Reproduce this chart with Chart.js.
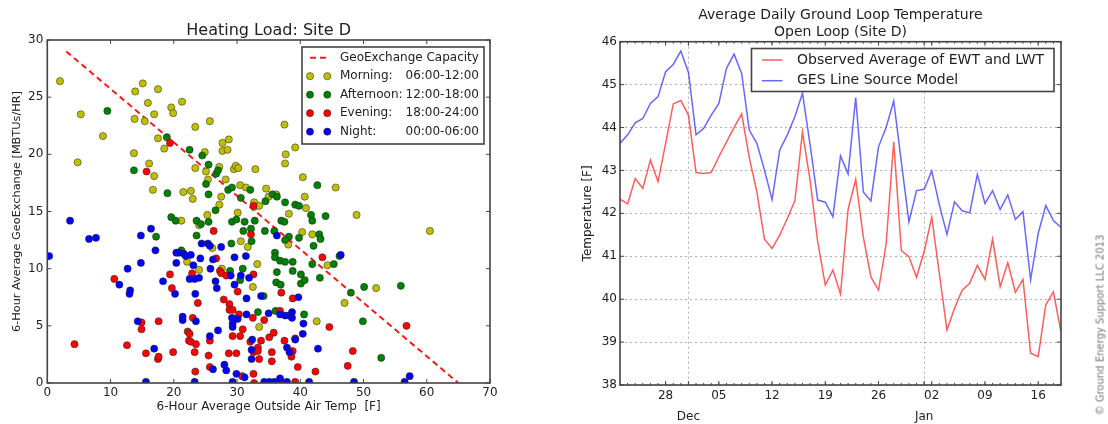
<!DOCTYPE html>
<html>
<head>
<meta charset="utf-8">
<script src="https://cdn.jsdelivr.net/npm/chart.js@4.4.1/dist/chart.umd.min.js"></script>
<style>
  html, body { margin: 0; padding: 0; background: #fff; }
  body { width: 1108px; height: 424px; position: relative; overflow: hidden; font-family: "DejaVu Sans", sans-serif; }
  .box { position: absolute; top: 0; width: 554px; height: 424px; }
  #leftBox { left: 0; }
  #rightBox { left: 554px; }
  .credit { position: absolute; left: 1100px; top: 325px; transform: translate(-50%, -50%) rotate(-90deg);
            font-size: 10px; color: #777; white-space: nowrap; }
</style>
</head>
<body>
<div class="box" id="leftBox"><canvas id="heatChart"></canvas></div>
<div class="box" id="rightBox"><canvas id="loopChart"></canvas></div>
<div class="credit">© Ground Energy Support LLC 2013</div>

<script>
//========================= Data ==================================//

// left chart: [outside air temp F, geoexchange MBTU/hr]
const capacityLine = [[3, 29], [65, 0]];

const seriesNames = ['Morning:', 'Afternoon:', 'Evening:', 'Night:'];
const seriesHours = ['06:00-12:00', '12:00-18:00', '18:00-24:00', '00:00-06:00'];

const morning = [[2.0,26.4],[5.3,23.5],[4.8,19.3],[8.8,21.6],[13.9,25.5],[15.1,26.2],[17.5,25.7],[15.9,24.5],
  [13.8,23.1],[15.4,22.9],[16.9,23.5],[21.3,24.6],[19.6,24.1],[19.9,23.6],[17.5,21.4],[13.7,20.1],[16.1,19.2],
  [16.9,18.1],[16.7,16.9],[18.5,20.5],[23.4,22.4],[25.7,22.9],[21.5,16.7],[22.7,16.8],[23.0,16.1],[23.4,18.8],
  [24.9,20.2],[25.1,18.5],[25.4,17.8],[25.3,14.7],[21.2,14.2],[27.7,21.0],[28.7,21.3],[27.7,20.3],[28.5,20.4],
  [27.2,18.9],[29.5,18.7],[29.8,19.0],[30.2,18.8],[28.2,17.8],[27.2,15.6],[27.5,16.3],[30.5,17.3],[31.4,17.1],
  [32.9,18.7],[30.1,14.9],[32.7,15.8],[32.7,15.4],[33.5,15.5],[34.6,17.0],[35.0,16.3],[36.2,16.5],[37.5,22.6],
  [37.7,20.0],[37.6,19.2],[39.2,20.6],[40.4,18.0],[40.7,16.3],[38.2,14.8],[40.9,15.3],[45.6,17.1],[40.3,13.2],
  [41.9,13.0],[38.1,12.1],[30.6,12.4],[31.7,11.9],[33.2,10.4],[24.0,13.8],[26.1,11.8],[22.1,10.6],[24.0,9.9],
  [27.6,10.0],[32.5,8.4],[33.5,4.9],[42.6,5.4],[44.3,10.3],[47.0,7.0],[48.9,14.7],[52.0,8.3],[60.5,13.3]];

const afternoon = [[9.5,23.8],[13.7,18.6],[18.9,21.5],[22.5,20.4],[24.5,19.9],[25.5,19.1],[25.1,17.4],[25.5,16.5],
  [26.7,18.3],[27.0,18.6],[19.0,16.6],[19.6,14.5],[20.3,14.2],[17.2,12.8],[23.6,14.2],[24.3,13.9],[23.6,12.9],
  [26.6,15.1],[25.5,14.1],[28.6,16.9],[29.2,17.1],[30.6,16.2],[32.1,16.9],[29.2,14.1],[29.1,12.2],[31.0,13.3],
  [31.2,14.1],[32.2,13.5],[32.8,14.2],[32.3,12.4],[34.4,13.3],[34.5,15.9],[35.6,16.5],[36.3,16.3],[37.6,15.8],
  [37.0,14.2],[37.5,14.1],[39.2,15.6],[39.8,15.5],[41.7,14.7],[41.9,14.2],[44.0,14.6],[42.7,17.3],[43.0,13.0],
  [43.2,12.6],[42.1,12.0],[39.8,12.7],[38.2,12.8],[37.6,12.5],[35.9,13.3],[36.0,11.4],[36.0,11.0],[36.8,10.7],
  [37.6,10.6],[38.8,10.6],[36.3,9.7],[38.8,9.8],[40.1,9.5],[40.1,8.7],[40.7,9.0],[36.2,8.8],[36.9,8.6],[43.1,9.2],
  [41.9,10.4],[45.3,10.4],[46.2,11.1],[48.0,7.9],[50.1,8.4],[55.9,8.5],[49.9,5.4],[52.8,2.2],[40.6,6.0],[36.1,6.3],
  [33.3,6.2],[34.2,7.6],[30.9,10.0],[30.5,9.0],[29.9,14.3],[21.2,11.6],[28.9,9.8]];

const evening = [[19.4,21.0],[15.7,18.5],[32.6,15.5],[26.3,13.3],[32.2,13.0],[10.6,9.1],[4.3,3.4],[12.6,3.3],
  [14.9,5.3],[14.9,4.7],[15.6,2.6],[17.6,5.4],[17.5,2.1],[17.6,2.3],[19.4,9.5],[19.7,8.3],[19.9,2.7],[22.2,4.5],
  [22.5,4.3],[22.4,3.7],[22.7,3.6],[23.5,3.4],[23.3,2.7],[23.0,5.7],[23.8,7.0],[22.9,9.6],[23.4,1.0],[25.7,3.7],
  [25.5,2.4],[25.7,1.4],[26.7,10.9],[27.3,9.8],[27.5,9.6],[28.3,9.4],[27.9,7.3],[28.8,6.9],[28.8,6.4],[29.3,6.4],
  [28.7,2.6],[29.3,4.1],[29.9,2.6],[30.1,8.0],[30.3,6.0],[30.5,4.1],[30.9,4.7],[30.8,0.6],[32.5,5.7],[32.6,9.5],
  [32.1,3.6],[33.3,3.1],[32.6,2.7],[33.3,2.8],[33.5,2.1],[32.6,0.8],[32.7,0.0],[33.8,3.7],[34.3,5.5],[35.1,4.0],
  [35.8,4.4],[35.5,2.7],[35.5,1.9],[37.0,7.9],[36.8,6.3],[37.5,3.7],[38.8,2.8],[38.6,2.3],[38.8,7.4],[39.2,3.9],
  [39.6,1.4],[42.4,1.0],[43.5,11.0],[44.6,4.9],[47.5,1.5],[48.3,2.8],[56.8,5.0],[37.0,0.1],[39.2,0.1]];

const night = [[0.3,11.1],[3.6,14.2],[6.6,12.6],[7.7,12.7],[12.7,10.0],[11.4,8.6],[13.1,8.1],[13.0,7.8],[14.8,12.9],
  [16.4,13.5],[17.1,11.6],[14.8,10.5],[14.3,5.4],[16.9,3.0],[15.6,0.1],[18.3,8.9],[20.4,11.4],[20.8,11.4],
  [21.6,11.3],[21.9,11.1],[20.4,10.5],[20.2,7.8],[21.4,5.8],[21.4,5.5],[22.7,11.2],[23.1,10.3],[22.5,9.1],
  [23.3,9.1],[24.0,9.2],[23.4,7.8],[23.5,5.4],[24.2,10.9],[24.4,12.2],[25.4,12.2],[25.7,12.0],[25.8,10.0],
  [26.2,10.8],[26.6,8.9],[26.8,8.3],[25.7,4.1],[27.0,4.6],[26.2,1.2],[28.0,1.6],[28.3,1.1],[27.5,11.9],[29.0,9.4],
  [29.6,8.6],[29.6,11.0],[29.2,5.7],[29.3,5.2],[29.3,4.9],[30.1,5.6],[30.6,9.4],[31.4,11.1],[31.5,7.4],[31.5,6.0],
  [31.9,9.2],[29.9,0.8],[29.3,0.1],[31.2,0.5],[32.4,3.8],[32.3,2.9],[32.3,2.1],[33.8,7.6],[35.0,6.1],[36.3,12.9],
  [36.8,6.0],[37.6,5.9],[38.2,5.9],[38.7,6.2],[38.7,5.7],[39.7,7.5],[37.9,3.1],[38.3,2.7],[39.2,3.8],[36.8,0.4],
  [40.4,4.3],[40.5,5.2],[42.8,3.0],[46.4,11.2],[48.5,0.1],[57.3,0.6],[56.5,0.1],[34.3,0.1],[35.1,0.1],[35.9,0.1],
  [37.9,0.1],[41.4,0.1],[23.3,0.1]];

// right chart: one value per day, day 0 = Nov 22, day 58 = Jan 19
const observed = [42.33,42.22,42.81,42.58,43.24,42.74,43.63,44.55,44.63,44.29,42.95,42.93,42.95,43.32,43.66,
  44.0,44.32,43.3,42.5,41.40,41.18,41.49,41.88,42.29,43.90,42.77,41.34,40.33,40.68,40.12,42.09,42.79,41.45,
  40.52,40.21,41.28,43.67,41.13,40.99,40.51,41.11,41.91,40.6,39.28,39.79,40.21,40.37,40.79,40.46,41.40,40.29,
  40.85,40.16,40.46,38.74,38.66,39.87,40.17,39.23];

const model = [43.63,43.83,44.11,44.21,44.56,44.72,45.30,45.47,45.78,45.29,43.83,43.98,44.29,44.56,45.38,45.71,
  45.26,43.94,43.63,43.01,42.32,43.47,43.83,44.25,44.80,43.6,42.31,42.26,41.92,43.34,42.92,44.70,42.50,42.29,
  43.55,44.0,44.62,43.2,41.80,42.53,42.56,42.99,42.2,41.51,42.27,42.06,42.01,42.91,42.23,42.53,42.09,42.43,
  41.86,42.04,40.45,41.53,42.18,41.83,41.67];

const weekTickDays = [6, 13, 20, 27, 34, 41, 48, 55];
const weekTickLabels = ['28', '05', '12', '19', '26', '02', '09', '16'];
const monthTickDays = [9, 40];
const monthTickLabels = ['Dec', 'Jan'];

//========================= Plugins ==================================//

Chart.defaults.font.family = '"DejaVu Sans", sans-serif';
Chart.defaults.color = '#222';

// matplotlib style frame with inward ticks
const mplFrame = {
  id: 'mplFrame',
  afterDatasetsDraw(chart, args, opts) {
    const { ctx, chartArea: a, scales } = chart;
    const x = scales.x, y = scales.y;
    ctx.save();
    ctx.strokeStyle = opts.color;
    ctx.lineWidth = 1;
    ctx.beginPath();
    const vTick = (px, len) => {
      ctx.moveTo(px, a.bottom); ctx.lineTo(px, a.bottom - len);
      ctx.moveTo(px, a.top); ctx.lineTo(px, a.top + len);
    };
    const hTick = (py, len) => {
      ctx.moveTo(a.left, py); ctx.lineTo(a.left + len, py);
      ctx.moveTo(a.right, py); ctx.lineTo(a.right - len, py);
    };
    if (opts.minorStep) {
      for (let v = x.min; v <= x.max; v += opts.minorStep) vTick(x.getPixelForValue(v), 2);
    }
    x.ticks.forEach(t => vTick(x.getPixelForValue(t.value), 4));
    y.ticks.forEach(t => hTick(y.getPixelForValue(t.value), 4));
    ctx.stroke();
    ctx.lineWidth = opts.width;
    ctx.strokeRect(a.left, a.top, a.width, a.height);
    ctx.restore();
  }
};

// boxed legend, two markers per scatter entry
const boxLegend = {
  id: 'boxLegend',
  afterDraw(chart, args, opts) {
    if (!opts.left) return;
    const ctx = chart.ctx;
    ctx.save();
    ctx.fillStyle = '#fff';
    ctx.fillRect(opts.left, opts.top, opts.width, opts.height);
    ctx.strokeStyle = opts.borderColor;
    ctx.lineWidth = opts.borderWidth;
    ctx.strokeRect(opts.left, opts.top, opts.width, opts.height);
    ctx.font = opts.fontSize + 'px "DejaVu Sans"';
    ctx.textBaseline = 'middle';
    opts.order.forEach((dsIndex, i) => {
      const ds = chart.data.datasets[dsIndex];
      const cy = opts.top + opts.firstRow + i * opts.rowGap;
      if (ds.type === 'line' || chart.config.type === 'line') {
        ctx.strokeStyle = ds.borderColor;
        ctx.lineWidth = ds.borderWidth;
        ctx.setLineDash(ds.borderDash || []);
        ctx.beginPath();
        ctx.moveTo(opts.symbolX[0], cy);
        ctx.lineTo(opts.symbolX[1], cy);
        ctx.stroke();
        ctx.setLineDash([]);
      } else {
        opts.symbolX.forEach(sx => {
          ctx.beginPath();
          ctx.arc(sx, cy, ds.pointRadius, 0, Math.PI * 2);
          ctx.fillStyle = ds.backgroundColor;
          ctx.fill();
          ctx.lineWidth = ds.borderWidth;
          ctx.strokeStyle = ds.borderColor;
          ctx.stroke();
        });
      }
      ctx.fillStyle = '#222';
      ctx.textAlign = 'left';
      ctx.fillText(ds.name || ds.label, opts.textX, cy);
      if (ds.hours) {
        ctx.textAlign = 'right';
        ctx.fillText(ds.hours, opts.hoursX, cy);
      }
    });
    ctx.restore();
  }
};

Chart.register(mplFrame, boxLegend);

/***************************************************************
* Heating Load scatter
****************************************************************/
const toXY = arr => arr.map(p => ({ x: p[0], y: p[1] }));
const dotColors = ['#bfbf00', '#008000', '#ff0000', '#0000ff'];
const dotSets = [morning, afternoon, evening, night].map((pts, i) => ({
  label: seriesNames[i] + ' ' + seriesHours[i],
  name: seriesNames[i],
  hours: seriesHours[i],
  data: toXY(pts),
  backgroundColor: dotColors[i],
  borderColor: 'rgba(40,40,40,0.75)',
  borderWidth: 0.7,
  pointRadius: 3.6,
  pointHoverRadius: 3.6,
  order: 3 - i
}));

new Chart(document.getElementById('heatChart'), {
  type: 'scatter',
  data: {
    datasets: [{
      label: 'GeoExchange Capacity',
      type: 'line',
      data: toXY(capacityLine),
      borderColor: '#ff1a1a',
      borderWidth: 2,
      borderDash: [6, 4],
      pointRadius: 0,
      fill: false,
      order: 4
    }].concat(dotSets)
  },
  options: {
    responsive: true,
    maintainAspectRatio: false,
    animation: false,
    layout: { padding: { left: 6, right: 64, top: 0, bottom: 0 } },
    plugins: {
      legend: { display: false },
      tooltip: { enabled: false },
      title: {
        display: true,
        fullSize: false,
        text: 'Heating Load: Site D',
        font: { size: 16, weight: 'normal', lineHeight: 1.2 },
        color: '#222',
        padding: { top: 20.8, bottom: 0 }
      },
      mplFrame: { color: '#444', width: 1.6 },
      boxLegend: {
        left: 302, top: 47, width: 182, height: 97,
        firstRow: 10.7, rowGap: 18.5,
        symbolX: [310, 327.3], textX: 340, hoursX: 479,
        fontSize: 12, borderColor: '#444', borderWidth: 1.6,
        order: [0, 1, 2, 3, 4]
      }
    },
    scales: {
      x: {
        type: 'linear', min: 0, max: 70,
        ticks: { stepSize: 10, font: { size: 12 }, color: '#222', padding: 3 },
        grid: { display: false, drawTicks: false },
        border: { display: false },
        title: { display: true, text: '6-Hour Average Outside Air Temp  [F]', font: { size: 12 }, color: '#222', padding: { top: 4, bottom: 9.5 } },
        afterFit(s) { s.height = 41; }
      },
      y: {
        min: 0, max: 30,
        ticks: { stepSize: 5, font: { size: 12 }, color: '#222', padding: 4 },
        grid: { display: false, drawTicks: false },
        border: { display: false },
        title: { display: true, text: '6-Hour Average GeoExchange [MBTUs/HR]', font: { size: 11.3 }, color: '#222' },
        afterFit(s) { s.width = 41.3; }
      }
    }
  }
});

/***************************************************************
* Ground loop temperature lines
****************************************************************/
new Chart(document.getElementById('loopChart'), {
  type: 'line',
  data: {
    datasets: [{
      label: 'Observed Average of EWT and LWT',
      data: observed.map((v, i) => ({ x: i, y: v })),
      borderColor: 'rgba(255,40,40,0.75)',
      borderWidth: 1.5,
      pointRadius: 0,
      tension: 0
    }, {
      label: 'GES Line Source Model',
      data: model.map((v, i) => ({ x: i, y: v })),
      borderColor: 'rgba(40,40,255,0.7)',
      borderWidth: 1.5,
      pointRadius: 0,
      tension: 0
    }]
  },
  options: {
    responsive: true,
    maintainAspectRatio: false,
    animation: false,
    layout: { padding: { left: 22.8, right: 47, top: 0, bottom: 0 } },
    plugins: {
      legend: { display: false },
      tooltip: { enabled: false },
      title: {
        display: true,
        fullSize: false,
        text: ['Average Daily Ground Loop Temperature', 'Open Loop (Site D)'],
        font: { size: 14, weight: 'normal', lineHeight: 1.236 },
        color: '#222',
        padding: { top: 6.4, bottom: 0.7 }
      },
      mplFrame: { color: '#444', width: 1.6, minorStep: 1 },
      boxLegend: {
        left: 197.5, top: 48.5, width: 302.5, height: 43,
        firstRow: 11.5, rowGap: 20.7,
        symbolX: [208, 228.5], textX: 243,
        fontSize: 14, borderColor: '#444', borderWidth: 1.6,
        order: [0, 1]
      }
    },
    scales: {
      x: {
        type: 'linear', min: 0, max: 58,
        afterBuildTicks(s) {
          s.ticks = weekTickDays.concat(monthTickDays).sort((a, b) => a - b).map(v => ({ value: v }));
        },
        ticks: {
          autoSkip: false, maxRotation: 0, padding: 0,
          font: { size: 12, lineHeight: 1.75 }, color: '#222',
          callback(value) {
            const w = weekTickDays.indexOf(value);
            if (w >= 0) return weekTickLabels[w];
            const m = monthTickDays.indexOf(value);
            if (m >= 0) return ['', monthTickLabels[m]];
            return '';
          }
        },
        grid: {
          drawTicks: false,
          lineWidth: 1,
          color: c => (c.tick && monthTickDays.includes(c.tick.value)) ? '#b0b0b0' : 'rgba(0,0,0,0)'
        },
        border: { display: false, dash: [2, 3] },
        afterFit(s) { s.height = 39; }
      },
      y: {
        min: 38, max: 46,
        ticks: { stepSize: 1, font: { size: 12 }, color: '#222', padding: 3 },
        grid: { drawTicks: false, color: '#b0b0b0', lineWidth: 1 },
        border: { display: false, dash: [2, 3] },
        title: { display: true, text: 'Temperature [F]', font: { size: 12 }, color: '#222' },
        afterFit(s) { s.width = 43.2; }
      }
    }
  }
});
</script>
</body>
</html>
